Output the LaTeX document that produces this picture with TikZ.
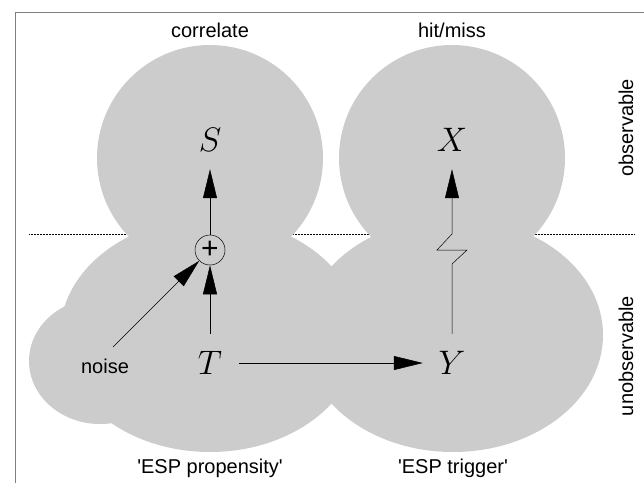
\documentclass[tikz,border=0pt]{standalone}
\usepackage{fix-cm}
\usepackage{fontspec}
\setsansfont{Liberation Sans}
\usetikzlibrary{arrows.meta}
\definecolor{blob}{gray}{0.8}
\definecolor{framegray}{gray}{0.5}
\begin{document}
\begin{tikzpicture}[x=1pt,y=-1pt,
  lbl/.style={font=\sffamily\fontsize{20}{24}\selectfont, inner sep=0pt},
  var/.style={circle, minimum size=58pt, inner sep=0pt, font=\fontsize{34}{40}\selectfont},
  conn/.style={line width=0.5pt},
  arr/.style={conn, -{Triangle[length=29pt,width=14pt]}},
  blobfill/.style={fill=blob}]
\useasboundingbox (0,0) rectangle (644,483);
% frame
\draw[framegray, line width=0.8pt] (15,483) -- (15,12) -- (644,12);
% observable / unobservable separator
\draw[conn, densely dotted] (29,234) -- (635,234);
% blobs
\fill[blobfill] (210,158) circle[radius=113pt];
\fill[blobfill] (452,158) circle[radius=113pt];
\fill[blobfill] (100,361) ellipse[x radius=71pt, y radius=63pt];
\fill[blobfill] (210,335) ellipse[x radius=150pt, y radius=117pt];
\fill[blobfill] (453,335) ellipse[x radius=150pt, y radius=117pt];
% labels
\node[lbl] (corr) at (210,30) {correlate};
\node[lbl] (hit) at (452,30) {hit/miss};
\node[lbl] (prop) at (210,468) {\textquotesingle ESP propensity\textquotesingle};
\node[lbl] (trig) at (453,468) {\textquotesingle ESP trigger\textquotesingle};
\node[lbl, rotate=90] (obs) at (626,128) {observable};
\node[lbl, rotate=90] (unobs) at (626,356) {unobservable};
\node[lbl] (noise) at (105,366) {noise};
% variables
\node[var] (S) at (210,140) {$S$};
\node[var] (X) at (452,140) {$X$};
\node[var] (T) at (210,363) {$T$};
\node[var] (Y) at (452,363) {$Y$};
\node[circle, draw, conn, minimum size=30pt, inner sep=0pt,
      font=\sffamily\fontsize{30}{32}\selectfont] (plus) at (210,250) {+};
% connectors
\draw[arr] (plus) -- (S);
\draw[arr] (T) -- (plus);
\draw[arr] ([shift={(8,-19)}]noise.center) -- (plus);
\draw[arr] (T) -- (Y);
\draw[arr] (Y.north) -- (452,264) -- (467,250) -- (437,250) -- (452,234) -- (X.south);
\end{tikzpicture}
\end{document}
